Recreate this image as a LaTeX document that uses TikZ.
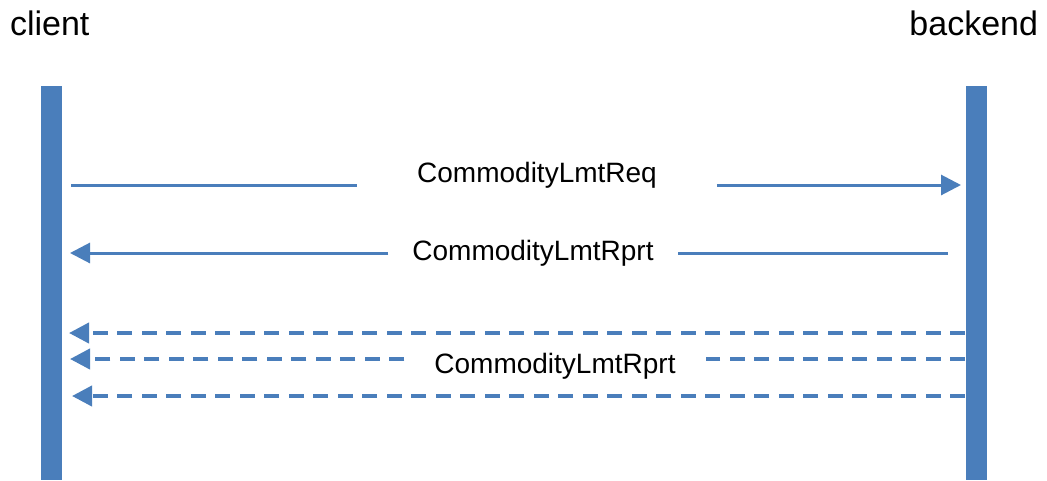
\documentclass[tikz,border=0pt]{standalone}
\usepackage{fontspec}
\setmainfont{Liberation Sans}
\usetikzlibrary{arrows.meta,positioning}
\definecolor{lineblue}{RGB}{74,126,187}
\begin{document}
\begin{tikzpicture}[x=1pt,y=-1pt,inner sep=0pt,outer sep=0pt]
\tikzstyle{title}=[font=\fontsize{34}{38}\selectfont]
\tikzstyle{lifeline}=[rectangle,fill=lineblue,minimum width=21pt,minimum height=394pt]
\tikzstyle{msg}=[font=\fontsize{28}{32}\selectfont,anchor=base]
\tikzstyle{sync}=[draw=lineblue,line width=3pt]
\tikzstyle{async}=[draw=lineblue,line width=4pt,dash pattern=on 15pt off 9.5pt]
\tikzstyle{head}=[-{Triangle[length=20pt,width=20pt,fill=lineblue]}]
\useasboundingbox (0,0) rectangle (1047,480);
\node[title,anchor=base west] (client) at (10,35) {client};
\node[title,anchor=base east] (backend) at (1038,35) {backend};
\node[lifeline] (cbar) at (51.5,283) {};
\node[lifeline] (bbar) at (976,283) {};
\coordinate (req_from) at (71,185);
\coordinate (req_to) at (961,185);
\coordinate (rpt_from) at (948,253);
\coordinate (rpt_to) at (70,253);
\coordinate (push1_from) at (965,333);
\coordinate (push1_to) at (69,333);
\coordinate (push2_from) at (965,359);
\coordinate (push2_to) at (70,359);
\coordinate (push3_from) at (965,396);
\coordinate (push3_to) at (72,396);
\node[msg,inner xsep=60pt] (req) at (537,182) {CommodityLmtReq};
\node[msg,inner xsep=24pt] (rpt) at (533,260) {CommodityLmtRprt};
\node[msg,inner xsep=30pt] (push) at (555,373) {CommodityLmtRprt};
\draw[sync] (req_from) -- (req_from -| req.west);
\draw[sync,head] (req_from -| req.east) -- (req_to);
\draw[sync] (rpt_from) -- (rpt_from -| rpt.east);
\draw[sync,head] (rpt_from -| rpt.west) -- (rpt_to);
\draw[async,head] (push1_from) -- (push1_to);
\draw[async] (push2_from) -- (push2_from -| push.east);
\draw[async,head] (push2_from -| push.west) -- (push2_to);
\draw[async,head] (push3_from) -- (push3_to);
\end{tikzpicture}
\end{document}
